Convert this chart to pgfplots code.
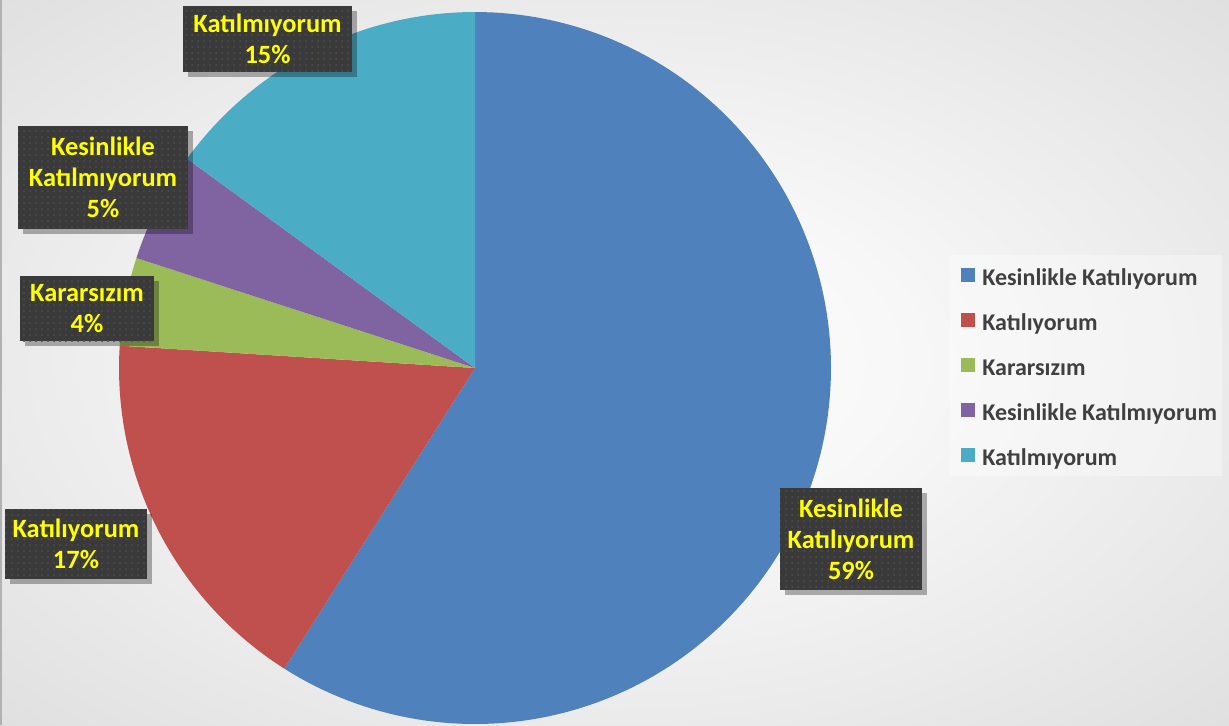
\documentclass[border=0pt]{standalone}
\usepackage{pgfplots}
\pgfplotsset{compat=1.18}
\usepackage{fontspec}
\setmainfont{Carlito}
\usetikzlibrary{shadows,patterns}
\definecolor{cBlue}{HTML}{4F81BD}
\definecolor{cRed}{HTML}{C0504D}
\definecolor{cGreen}{HTML}{9BBB59}
\definecolor{cPurple}{HTML}{8064A2}
\definecolor{cCyan}{HTML}{4BACC6}
\definecolor{lblbg}{HTML}{3A3A3A}
\definecolor{lbldot}{HTML}{4E4E4E}
\definecolor{lbltext}{HTML}{FFFF00}
\definecolor{legtext}{HTML}{404040}
\pgfdeclareradialshading{bgshade}{\pgfpoint{0bp}{0bp}}{color(0bp)=(white); color(12bp)=(white!97!black); color(40bp)=(white!86!black); color(72bp)=(white!79!black)}
\tikzset{lbl/.style={align=center, font=\bfseries\fontsize{13.2}{15.5}\selectfont,
    text=lbltext, fill=lblbg, inner sep=0pt,
    postaction={pattern=dots, pattern color=lbldot},
    drop shadow={shadow xshift=2.5pt, shadow yshift=-2.5pt, opacity=0.3, fill=black}}}
% data (percent)
\def\vA{59}% Kesinlikle Katiliyorum
\def\vB{17}% Katiliyorum
\def\vC{4}%  Kararsizim
\def\vD{5}%  Kesinlikle Katilmiyorum
\def\vE{15}% Katilmiyorum
\pgfmathsetmacro\aA{90}
\pgfmathsetmacro\aB{\aA-\vA*3.6}
\pgfmathsetmacro\aC{\aB-\vB*3.6}
\pgfmathsetmacro\aD{\aC-\vC*3.6}
\pgfmathsetmacro\aE{\aD-\vD*3.6}
\pgfmathsetmacro\aF{\aE-\vE*3.6}
\begin{document}
\begin{tikzpicture}
\shade[shading=bgshade] (0,0) rectangle (614.5pt,362.5pt);
\draw[white!70!black, line width=1pt] (0.5pt,0) -- (0.5pt,362.5pt);
\begin{axis}[at={(0,0)}, anchor=south west, scale only axis,
  width=614.5pt, height=362.5pt,
  xmin=0, xmax=1229, ymin=0, ymax=725, y dir=reverse,
  hide axis, clip=false,
  legend style={at={(0.7819,0.6304)}, anchor=north west, draw=none, fill=none,
    inner sep=0pt, row sep=11.5pt, text=legtext,
    font=\bfseries\fontsize{12}{14}\selectfont,
    nodes={inner sep=0pt, text height=7.5pt, text depth=2.5pt},
    /tikz/every odd column/.append style={column sep=3.5pt}},
  legend cell align=left,
  legend image code/.code={\fill[#1] (0pt,-1pt) rectangle (7pt,6pt);},
]
\fill[white, opacity=0.35] (axis cs:950,255) rectangle (axis cs:1222,476);
\addplot[fill=cBlue, draw=none, domain=\aB:\aA, samples=150, variable=\t]
  ({475+356*cos(\t)},{368-356*sin(\t)}) -- (axis cs:475,368) -- cycle;
\addlegendentry{Kesinlikle Katılıyorum}
\addplot[fill=cRed, draw=none, domain=\aC:\aB, samples=60, variable=\t]
  ({475+356*cos(\t)},{368-356*sin(\t)}) -- (axis cs:475,368) -- cycle;
\addlegendentry{Katılıyorum}
\addplot[fill=cGreen, draw=none, domain=\aD:\aC, samples=20, variable=\t]
  ({475+356*cos(\t)},{368-356*sin(\t)}) -- (axis cs:475,368) -- cycle;
\addlegendentry{Kararsızım}
\addplot[fill=cPurple, draw=none, domain=\aE:\aD, samples=20, variable=\t]
  ({475+356*cos(\t)},{368-356*sin(\t)}) -- (axis cs:475,368) -- cycle;
\addlegendentry{Kesinlikle Katılmıyorum}
\addplot[fill=cCyan, draw=none, domain=\aF:\aE, samples=50, variable=\t]
  ({475+356*cos(\t)},{368-356*sin(\t)}) -- (axis cs:475,368) -- cycle;
\addlegendentry{Katılmıyorum}
\node[lbl, minimum width=84.5pt, minimum height=33pt] at (axis cs:267.5,39) {Katılmıyorum\\15\%};
\node[lbl, minimum width=85pt, minimum height=51.5pt] at (axis cs:103,177.5) {Kesinlikle\\Katılmıyorum\\5\%};
\node[lbl, minimum width=67pt, minimum height=32.5pt] at (axis cs:87,308.5) {Kararsızım\\4\%};
\node[lbl, minimum width=71pt, minimum height=35pt] at (axis cs:76,544) {Katılıyorum\\17\%};
\node[lbl, minimum width=71pt, minimum height=51pt] at (axis cs:851,539) {Kesinlikle\\Katılıyorum\\59\%};
\end{axis}
\pgfresetboundingbox
\useasboundingbox (0,0) rectangle (614.5pt,362.5pt);
\end{tikzpicture}
\end{document}
